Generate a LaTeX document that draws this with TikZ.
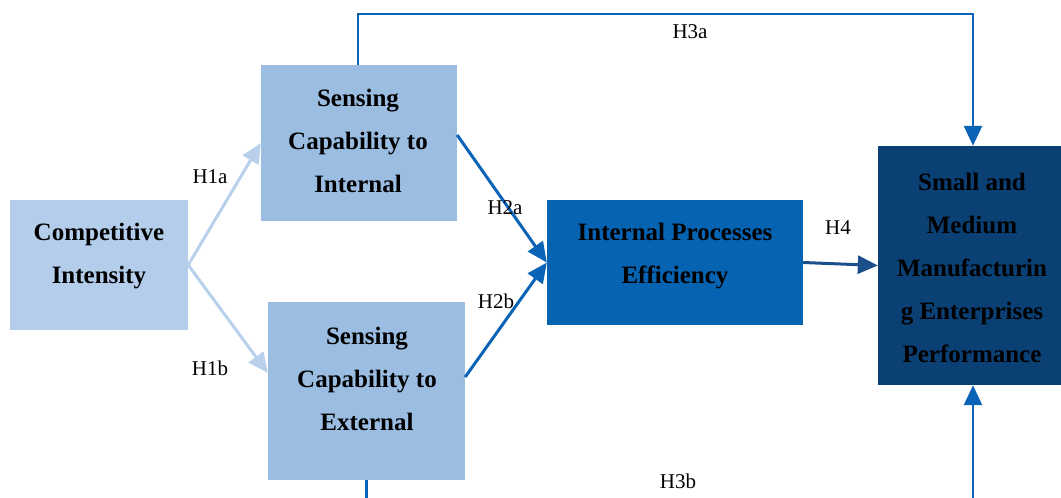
\documentclass[tikz,border=0pt]{standalone}
\usepackage{fontspec}
\setmainfont{Liberation Serif}
\usetikzlibrary{arrows.meta}
\definecolor{ciblue}{HTML}{B4CDEB}
\definecolor{scblue}{HTML}{9BBDE2}
\definecolor{ipblue}{HTML}{0563B1}
\definecolor{smeblue}{HTML}{0B4075}
\definecolor{arrlight}{HTML}{B9D0EC}
\definecolor{arrmid}{HTML}{0A63B6}
\definecolor{arrdark}{HTML}{1B4F8A}
\tikzset{
  box/.style={draw=none, inner sep=0pt, minimum width=#1},
  txt/.style={align=center, font=\fontsize{25}{43}\selectfont\bfseries, text=black, inner sep=0pt},
  lab/.style={font=\fontsize{21}{24}\selectfont, text=black, inner sep=0pt},
  arr/.style={line width=3pt, -{Triangle[length=20pt,width=18pt]}},
}
\begin{document}
\begin{tikzpicture}[x=1pt,y=-1pt]
\useasboundingbox (0,0) rectangle (1061,498);
\clip (0,0) rectangle (1061,498);
% boxes
\node[box=178pt, minimum height=130pt, fill=ciblue] (ci) at (99,265) {};
\node[box=196pt, minimum height=156pt, fill=scblue] (sci) at (359,143) {};
\node[box=197pt, minimum height=178pt, fill=scblue] (sce) at (366.5,391) {};
\node[box=256pt, minimum height=125pt, fill=ipblue] (ipe) at (675,262.5) {};
\node[box=183pt, minimum height=239pt, fill=smeblue] (sme) at (969.5,265.5) {};
% texts
\node[txt] (ci-t) at (99,256) {Competitive\\Intensity};
\node[txt] (sci-t) at (358,141) {Sensing\\Capability to\\Internal};
\node[txt] (sce-t) at (367,379) {Sensing\\Capability to\\External};
\node[txt] (ipe-t) at (675,256) {Internal Processes\\Efficiency};
\node[txt] (sme-t) at (972,268) {Small and\\Medium\\Manufacturin\\g Enterprises\\Performance};
% connectors
\draw[arr, color=arrlight] (ci.east) -- (sci.west);
\draw[arr, color=arrlight] (ci.east) -- ([yshift=18pt]sce.west);
\draw[arr, color=arrmid] ([yshift=8pt]sci.east) -- (ipe.west);
\draw[arr, color=arrmid] ([yshift=14pt]sce.east) -- (ipe.west);
\draw[arr, color=arrdark] (ipe.east) -- (sme.west);
\draw[arr, color=arrmid, line width=2.6pt] ([xshift=-1pt]sci.north) -- ++(0,-51) -| ([xshift=3.5pt]sme.north);
\draw[arr, color=arrmid, line width=2.6pt] (sce.south) -- ++(0,50) -| ([xshift=3.5pt]sme.south);
% labels
\node[lab] (l1a) at (210,177) {H1a};
\node[lab] (l1b) at (210,368) {H1b};
\node[lab] (l2a) at (505,208) {H2a};
\node[lab] (l2b) at (496,301) {H2b};
\node[lab] (l4) at (838,228) {H4};
\node[lab] (l3a) at (690,32) {H3a};
\node[lab] (l3b) at (678,481) {H3b};
\end{tikzpicture}
\end{document}
